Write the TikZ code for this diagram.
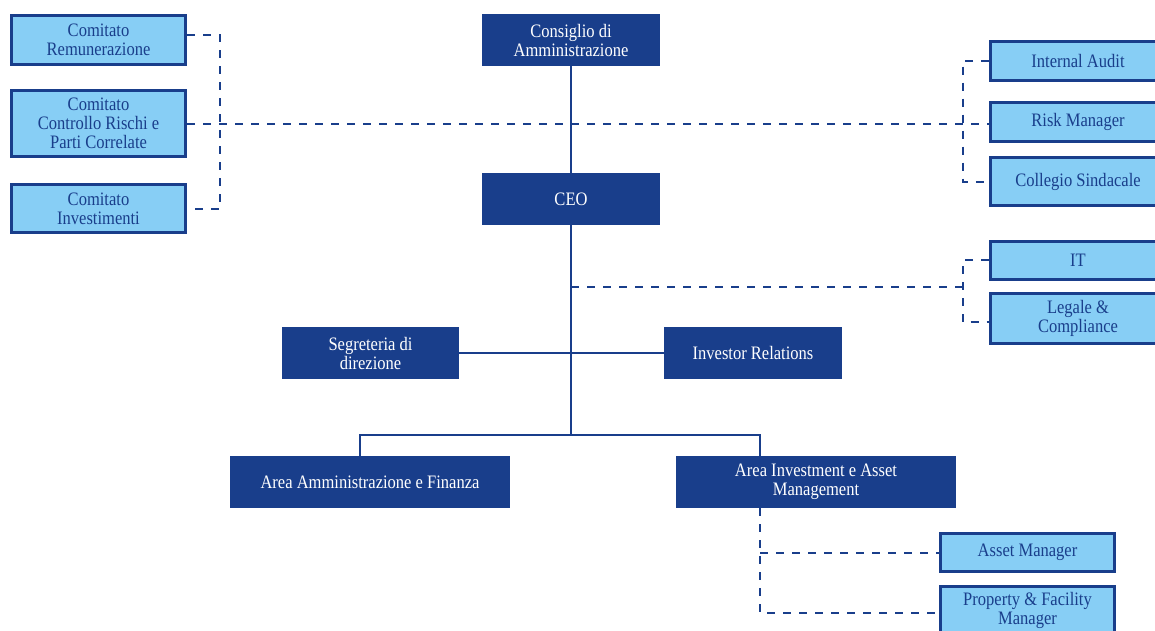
\documentclass[tikz,border=0pt]{standalone}
\usepackage{fontspec}
\setmainfont[FakeStretch=0.87]{Liberation Serif}
\definecolor{dkblue}{RGB}{25,62,139}
\definecolor{ltblue}{RGB}{135,206,245}
\tikzset{
  darkbox/.style={fill=dkblue, draw=none, text=white, inner sep=0pt, align=center,
    font=\fontsize{19}{19}\selectfont},
  lightbox/.style={fill=ltblue, draw=dkblue, line width=3pt, text=dkblue, inner sep=0pt, align=center,
    font=\fontsize{19}{19}\selectfont},
  solidline/.style={draw=dkblue, line width=2pt},
  dashline/.style={draw=dkblue, line width=2pt, dash pattern=on 8pt off 8pt},
}
\begin{document}
\begin{tikzpicture}[x=1pt,y=-1pt]
\useasboundingbox (0,0) rectangle (1155,630);
% dark boxes
\node[darkbox, minimum width=178, minimum height=52] (cda) at (571,40) {Consiglio di\\Amministrazione};
\node[darkbox, minimum width=178, minimum height=52] (ceo) at (571,199) {CEO};
\node[darkbox, minimum width=177, minimum height=52] (seg) at (370.5,353) {Segreteria di\\direzione};
\node[darkbox, minimum width=178, minimum height=52] (ir) at (753,353) {Investor Relations};
\node[darkbox, minimum width=280, minimum height=52] (aaf) at (370,482) {Area Amministrazione e Finanza};
\node[darkbox, minimum width=280, minimum height=52] (aim) at (816,482) {Area Investment e Asset\\Management};
% light boxes (left)
\node[lightbox, minimum width=174, minimum height=49] (crem) at (98.5,40) {Comitato\\Remunerazione};
\node[lightbox, minimum width=174, minimum height=66] (crisk) at (98.5,123.5) {Comitato\\Controllo Rischi e\\Parti Correlate};
\node[lightbox, minimum width=174, minimum height=48] (cinv) at (98.5,208.5) {Comitato\\Investimenti};
% light boxes (right)
\node[lightbox, minimum width=175, minimum height=39] (ia) at (1078,60.5) {Internal Audit};
\node[lightbox, minimum width=175, minimum height=39] (rm) at (1078,121.7) {Risk Manager};
\node[lightbox, minimum width=175, minimum height=48] (cs) at (1078,181.7) {Collegio Sindacale};
\node[lightbox, minimum width=175, minimum height=38] (it) at (1078,260) {IT};
\node[lightbox, minimum width=175, minimum height=50] (leg) at (1078,318.5) {Legale \&\\Compliance};
% light boxes (bottom)
\node[lightbox, minimum width=174, minimum height=38] (am) at (1027.5,552.5) {Asset Manager};
\node[lightbox, minimum width=174, minimum height=48] (pfm) at (1027.5,610.5) {Property \& Facility\\Manager};
% coordinates
\coordinate (lbx) at (220,0);
\coordinate (rbx) at (963,0);
\coordinate (hub) at (571,435);
\coordinate (hubl) at (360,435);
\coordinate (hubr) at (760,435);
\coordinate (itj) at (571,287);
\coordinate (bbx) at (760,0);
\coordinate (cremr) at ([yshift=5pt]crem.east);
\coordinate (legl) at ([yshift=-3.8pt]leg.west);
\coordinate (pfml) at ([yshift=-2.3pt]pfm.west);
% solid connectors
\draw[solidline] (cda) -- (ceo);
\draw[solidline] (ceo) -- (hub);
\draw[solidline] (seg) -- (ir);
\draw[solidline] (aaf.north -| hubl) -- (hubl) -- (hubr) -- (aim.north -| hubr);
% left dashed bracket
\draw[dashline] (cremr) -| (lbx |- cinv.east) -- (cinv.east);
% main dashed line
\draw[dashline] (crisk.east) -- (crisk.east -| rm.west);
% right dashed bracket
\draw[dashline] (ia.west) -| (rbx |- cs.west) -- (cs.west);
% IT bracket
\draw[dashline] (itj) -- (itj -| rbx);
\draw[dashline] (it.west) -| (rbx |- legl) -- (legl);
% bottom bracket
\draw[dashline] (aim.south -| bbx) |- (pfml);
\draw[dashline] (bbx |- am.west) -- (am.west);
\end{tikzpicture}
\end{document}
